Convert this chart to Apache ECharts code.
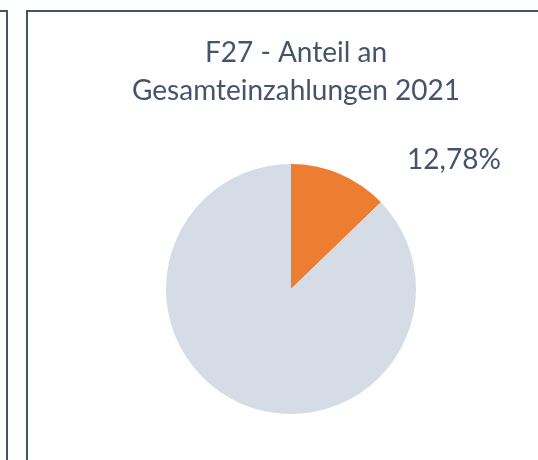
<!DOCTYPE html>
<html>
<head>
<meta charset="utf-8">
<script src="https://cdn.jsdelivr.net/npm/echarts@6/dist/echarts.min.js"></script>
<style>
  html, body { margin: 0; padding: 0; background: #ffffff; }
  #chart { width: 538px; height: 460px; }
</style>
</head>
<body>
<div id="chart"></div>
<script>
// Share of total deposits 2021
const titleLines = ['F27 - Anteil an', 'Gesamteinzahlungen 2021'];
const sliceNames = ['F27', 'Rest'];
const sliceValues = [12.78, 87.22];
const sliceColors = ['#ED7D31', '#D6DCE5'];

const textColor = '#44546A';
const frameColor = '#44546A';
const fontFamily = 'Lato, "Open Sans", sans-serif';

const chart = echarts.init(document.getElementById('chart'), null, { renderer: 'canvas' });

chart.setOption({
  animation: false,
  title: {
    text: titleLines.join('\n'),
    left: 291,
    top: 29,
    textAlign: 'center',
    textStyle: {
      color: textColor,
      fontFamily: fontFamily,
      fontWeight: 'normal',
      fontSize: 28,
      lineHeight: 38
    }
  },
  graphic: [
    {
      type: 'polyline',
      shape: { points: [[0, 11], [7, 11], [7, 460]] },
      style: { stroke: frameColor, lineWidth: 2, fill: null }
    },
    {
      type: 'polyline',
      shape: { points: [[27, 460], [27, 11], [538, 11]] },
      style: { stroke: frameColor, lineWidth: 2, fill: null }
    }
  ],
  series: [{
    type: 'pie',
    center: [291, 289],
    radius: 125,
    startAngle: 90,
    clockwise: true,
    silent: true,
    data: sliceNames.map((n, i) => ({
      name: n,
      value: sliceValues[i],
      itemStyle: { color: sliceColors[i] },
      label: i === 0 ? {
        show: true,
        formatter: (p) => p.value.toFixed(2).replace('.', ',') + '%',
        color: textColor,
        fontFamily: fontFamily,
        fontSize: 28
      } : { show: false },
      labelLine: { show: false }
    })),
    label: { position: 'outside' },
    labelLayout: (params) => params.dataIndex === 0
      ? { x: 454, y: 160, align: 'center', verticalAlign: 'middle' }
      : {}
  }]
});
</script>
</body>
</html>
